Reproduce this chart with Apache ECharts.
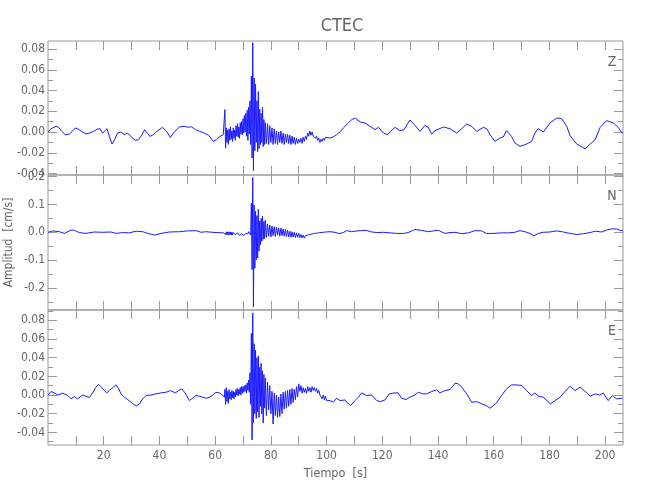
<!DOCTYPE html>
<html>
<head>
<meta charset="utf-8">
<script src="https://cdn.jsdelivr.net/npm/echarts@6/dist/echarts.min.js"></script>
<style>html,body{margin:0;padding:0;background:#fff}#c{width:650px;height:500px}</style>
</head>
<body>
<div id="c"></div>
<script>
// ---- data (time in s, amplitude in cm/s) ----
const xTickValues = [10,20,30,40,50,60,70,80,90,100,110,120,130,140,150,160,170,180,190,200];
const xLabelValues = [20,40,60,80,100,120,140,160,180,200];
const zMajor = [-0.04,-0.02,0,0.02,0.04,0.06,0.08];
const zMinor = [-0.03,-0.01,0.01,0.03,0.05,0.07];
const nMajor = [-0.2,-0.1,0,0.1,0.2];
const nMinor = [-0.25,-0.15,-0.05,0.05,0.15];
const eMajor = [-0.04,-0.02,0,0.02,0.04,0.06,0.08];
const eMinor = [-0.05,-0.03,-0.01,0.01,0.03,0.05,0.07,0.09];
const panelNames = ['Z','N','E'];

const zTrace = [
[0,0],[1.1,0.0032],[2.9,0.0055],[3.8,0.0045],[5.0,0.0006],[6.2,-0.0026],[7.7,-0.0019],[8.9,0.0013],[9.8,0.0039],[11.0,0.0026],
[12.4,0],[13.6,-0.0019],[14.8,-0.001],[16.3,0.0006],[17.8,0.0029],[18.7,0.0032],[19.6,-0.001],[20.2,-0.0026],[21.2,0.0032],[22.0,-0.0042],
[23.0,-0.0116],[23.9,-0.0074],[25.0,-0.001],[26.2,0],[27.4,-0.0026],[28.6,-0.001],[29.8,-0.0045],[31.3,-0.008],[32.5,-0.0074],[33.7,-0.0026],
[34.7,0.0023],[35.6,-0.001],[36.6,-0.0042],[37.8,-0.0026],[39.0,0.0006],[41.1,0.0045],[42.6,0.0006],[43.9,-0.0052],[45.3,0],[47.1,0.0048],
[48.9,0.0055],[50.5,0.0045],[51.4,0.0052],[52.9,0.0023],[54.5,0.0006],[56.1,-0.001],[57.7,-0.0032],[59.3,-0.009],[60.5,-0.0074],[61.7,-0.0042],
[62.9,-0.0026],[63.4,-0.0026],
[63.5,0.0216],[63.75,-0.0155],[64.0,0.004],[64.25,-0.010],[64.5,0.002],[64.75,-0.012],[65.0,0.003],[65.25,-0.008],[65.5,0.005],[65.75,-0.007],
[66.0,0.001],[66.25,-0.009],[66.5,0.004],[66.75,-0.006],[67.0,0.002],[67.25,-0.008],[67.5,0.006],[67.75,-0.004],[68.0,0.008],[68.25,-0.005],
[68.5,0.005],[68.75,-0.006],[69.0,0.009],[69.25,-0.002],[69.5,0.010],[69.75,-0.003],[70.0,0.013],[70.25,-0.001],[70.5,0.016],[70.75,0.000],
[71.0,0.018],[71.25,-0.004],[71.5,0.021],[71.75,-0.008],[72.0,0.024],[72.25,-0.002],[72.5,0.030],[72.75,-0.012],[73.0,0.054],[73.25,-0.025],
[73.5,0.086],[73.75,-0.037],[74.0,0.052],[74.25,-0.018],[74.5,0.046],[74.75,-0.010],[75.0,0.030],[75.25,-0.019],[75.5,0.039],[75.75,-0.016],
[76.0,0.022],[76.25,-0.012],[76.5,0.018],[76.75,-0.010],[77.0,0.024],[77.25,-0.014],[77.5,0.012],[77.75,-0.012],[78.0,0.009],[78.4,-0.011],
[78.8,0.008],[79.2,-0.012],[79.6,0.006],[80.0,-0.010],[80.4,0.004],[80.8,-0.012],[81.2,0.003],[81.6,-0.011],[82.0,0.001],[82.4,-0.012],
[82.8,0.000],[83.2,-0.010],[83.6,0.001],[84.0,-0.011],[84.4,-0.001],[84.8,-0.012],[85.2,-0.002],[85.6,-0.010],[86.0,-0.002],[86.4,-0.011],
[86.8,-0.003],[87.2,-0.012],[87.6,-0.004],[88.0,-0.011],[88.4,-0.005],[88.8,-0.012],[89.2,-0.006],[89.6,-0.011],[90.0,-0.007],[90.4,-0.010],
[90.8,-0.006],[91.2,-0.011],[91.6,-0.005],[92.0,-0.009],[92.4,-0.004],[92.8,-0.007],[93.2,-0.001],[93.6,-0.004],[94.0,0.001],[94.4,-0.003],
[94.8,0.000],[95.2,-0.004],[95.6,-0.003],[96.0,-0.006],[96.4,-0.004],[96.8,-0.008],[97.2,-0.006],[97.6,-0.010],[98.0,-0.007],[98.4,-0.009],
[98.8,-0.006],[99.2,-0.008],[99.6,-0.005],[100.0,-0.006],
[101.2,-0.0058],[102.5,-0.0045],[103.6,-0.0026],[105.0,0.0006],[106.0,0.0039],[107.8,0.0087],[109.0,0.0119],[110.3,0.0135],[111.2,0.0116],[112.1,0.0097],
[113.8,0.0087],[115.6,0.0055],[117.4,0.0023],[118.6,0.0045],[120.4,-0.001],[121.8,-0.0026],[122.8,0],[124.6,0.0045],[126.3,0.0013],[127.8,0.0023],
[129.9,0.0116],[131.7,0.0064],[133.5,0.0006],[135.3,0.0064],[136.5,0.0045],[137.7,-0.0019],[138.9,0.0013],[141.9,0.0048],[144.3,0.0032],[146.7,-0.001],
[148.5,0.0032],[150.3,0.0077],[152.1,0.0055],[153.9,0.0006],[156.3,0.0045],[157.5,0.0032],[158.7,-0.0026],[160.4,-0.009],[162.2,-0.0058],[163.4,-0.0048],
[164.6,0.0013],[166.4,-0.0042],[167.6,-0.0106],[169.4,-0.0138],[171.8,-0.0116],[173.6,-0.009],[174.8,-0.001],[176.0,0.0032],[177.8,0],[180.2,0.0087],
[182.6,0.0135],[184.4,0.0129],[186.2,0.0055],[187.4,-0.0035],[189.8,-0.0116],[192.8,-0.0161],[194.6,-0.0116],[196.4,-0.0074],[198.2,0.0045],[200.5,0.011],
[202.9,0.0087],[204.7,0.0045],[205.9,-0.0006],[206.4,-0.001]
];

const nTrace = [
[0,0],[1.7,0.005],[4.1,0.002],[5.9,-0.004],[8.3,0.008],[9.5,0.007],[11.2,-0.001],[13.6,-0.004],[16.6,0.001],[19.6,0],
[22.6,0.001],[24.4,-0.004],[26.8,-0.001],[29.2,-0.002],[31.6,0.004],[34.0,0.002],[35.8,-0.004],[38.2,-0.010],[40.6,-0.004],[43.5,0.001],
[47.1,0.002],[50.1,0.005],[53.1,0.006],[54.9,0],[56.7,0.002],[60.3,-0.001],[63.0,-0.002],
[63.25,-0.002],[63.5,0.003],[63.75,-0.008],[64.0,0.002],[64.25,-0.009],[64.5,0.001],[64.75,-0.010],[65.0,0.002],[65.25,-0.008],[65.5,0.000],
[65.75,-0.010],[66.0,0.001],[66.25,-0.009],[66.5,-0.001],[66.75,-0.008],[67.0,0.000],[67.25,-0.009],[67.5,-0.002],[67.75,-0.010],[68.0,-0.002],
[68.25,-0.008],[68.5,-0.003],[68.75,-0.011],[69.0,-0.004],[69.25,-0.010],[69.5,-0.005],[69.75,-0.012],[70.0,-0.006],[70.25,-0.011],[70.5,-0.006],
[70.75,-0.009],[71.0,-0.004],[71.25,-0.008],[71.5,-0.002],[71.75,-0.006],[72.0,0.002],[72.25,-0.004],[72.5,0.004],[72.75,-0.010],[73.0,0.105],
[73.25,-0.134],[73.5,0.196],[73.75,-0.267],[74.0,0.098],[74.25,-0.129],[74.5,0.075],[74.75,-0.099],[75.0,0.060],[75.25,-0.092],[75.5,0.082],
[75.75,-0.068],[76.0,0.040],[76.25,-0.045],[76.5,0.050],[76.75,-0.032],[77.0,0.057],[77.25,-0.025],[77.5,0.038],[77.75,-0.022],[78.0,0.043],
[78.4,-0.018],[78.8,0.030],[79.2,-0.014],[79.6,0.026],[80.0,-0.016],[80.4,0.022],[80.8,-0.012],[81.2,0.020],[81.6,-0.015],[82.0,0.018],
[82.4,-0.010],[82.8,0.016],[83.2,-0.014],[83.6,0.015],[84.0,-0.012],[84.4,0.012],[84.8,-0.014],[85.2,0.010],[85.6,-0.015],[86.0,0.008],
[86.4,-0.016],[86.8,0.004],[87.2,-0.018],[87.6,0.002],[88.0,-0.017],[88.4,0.000],[88.8,-0.019],[89.2,-0.002],[89.6,-0.018],[90.0,-0.004],
[90.4,-0.019],[90.8,-0.008],[91.2,-0.020],[91.6,-0.010],[92.0,-0.021],[92.4,-0.012],[92.8,-0.016],[93.2,-0.010],[93.6,-0.012],[94.0,-0.008],
[94.4,-0.009],[94.8,-0.006],[95.2,-0.008],[95.6,-0.004],[96.0,-0.006],[96.4,-0.003],[96.8,-0.005],[97.2,-0.002],[97.6,-0.003],[98.0,-0.001],
[98.4,-0.002],[98.8,0.000],[99.2,-0.002],[99.6,0.001],[100.0,0.000],
[101.2,0.002],[103.0,0],[104.5,-0.005],[106.0,-0.001],[107.2,0.006],[109.0,0.002],[110.9,0.005],[112.6,0.006],[114.4,0.007],[115.6,0.002],
[118.0,-0.001],[120.4,0],[122.8,-0.002],[125.2,-0.004],[127.5,-0.004],[129.3,-0.001],[131.7,0.010],[134.1,0.007],[136.5,0.002],[138.3,0.005],
[140.1,0.007],[142.5,-0.004],[144.3,-0.001],[146.1,0],[148.5,-0.005],[150.9,-0.002],[153.3,0.006],[155.6,0.005],[157.4,-0.004],[159.8,-0.004],
[162.8,-0.002],[165.2,-0.002],[167.6,0],[169.4,0.006],[171.2,0.002],[173.0,-0.004],[174.4,-0.013],[176.0,-0.004],[177.8,0],[180.2,0.001],
[182.6,0.005],[185.0,0.001],[187.4,-0.004],[189.8,-0.008],[192.2,-0.005],[194.6,-0.001],[196.4,0.004],[198.8,0.001],[200.5,0.008],[202.3,0.012],
[204.1,0.012],[205.3,0.007],[206.3,0.006]
];

const eTrace = [
[0,0],[1.1,0.0038],[2.3,0.0023],[3.5,0],[5.3,0.002],[7.1,-0.0005],[8.3,-0.0041],[9.5,-0.0016],[10.6,-0.0041],[12.4,0],
[13.6,-0.0012],[14.8,-0.0027],[16.0,0.0023],[17.2,0.0084],[18.1,0.0113],[19.0,0.0091],[20.2,0.0048],[21.1,0.0023],[22.0,0.0048],[23.4,0.0084],
[24.4,0.0109],[25.4,0.0066],[26.2,0.0013],[27.4,-0.0023],[28.6,-0.0048],[29.8,-0.0077],[31.0,-0.0105],[31.8,-0.0116],[32.8,-0.0095],[34.0,-0.0041],
[35.2,-0.0005],[37.0,0],[38.8,0.0013],[40.6,0.0023],[42.3,0.003],[44.1,0.0048],[45.7,0.0023],[46.9,0.0048],[48.0,0.0066],[49.2,0.0023],
[50.7,-0.0059],[51.9,-0.0034],[53.1,-0.0005],[54.3,-0.0012],[55.5,-0.0023],[56.9,-0.0034],[58.1,-0.0023],[59.1,0],[60.3,0.003],[61.5,0.0023],
[62.7,0],[63.3,-0.0023],
[63.5,0.006],[63.75,-0.010],[64.0,0.008],[64.25,-0.007],[64.5,0.004],[64.75,-0.009],[65.0,0.006],[65.25,-0.004],[65.5,0.003],[65.75,-0.005],
[66.0,0.005],[66.25,-0.003],[66.5,0.004],[66.75,-0.004],[67.0,0.003],[67.25,-0.002],[67.5,0.006],[67.75,0.000],[68.0,0.007],[68.25,-0.001],
[68.5,0.006],[68.75,0.001],[69.0,0.008],[69.25,0.000],[69.5,0.009],[69.75,0.002],[70.0,0.009],[70.25,0.003],[70.5,0.010],[70.75,0.004],
[71.0,0.011],[71.25,0.002],[71.5,0.013],[71.75,0.005],[72.0,0.016],[72.25,0.003],[72.5,0.024],[72.75,-0.010],[73.0,0.066],[73.25,-0.048],
[73.5,0.088],[73.75,-0.030],[74.0,0.055],[74.25,-0.020],[74.5,0.048],[74.75,-0.025],[75.0,0.040],[75.25,-0.018],[75.5,0.042],[75.75,-0.024],
[76.0,0.030],[76.25,-0.012],[76.5,0.034],[76.75,-0.020],[77.0,0.026],[77.25,-0.030],[77.5,0.022],[77.75,-0.014],[78.0,0.018],[78.4,-0.022],
[78.8,0.014],[79.2,-0.016],[79.6,0.010],[80.0,-0.020],[80.4,0.004],[80.8,-0.031],[81.2,0.002],[81.6,-0.022],[82.0,0.000],[82.4,-0.024],
[82.8,-0.002],[83.2,-0.023],[83.6,0.001],[84.0,-0.020],[84.4,0.003],[84.8,-0.015],[85.2,0.004],[85.6,-0.014],[86.0,0.005],[86.4,-0.012],
[86.8,0.006],[87.2,-0.010],[87.6,0.007],[88.0,-0.008],[88.4,0.006],[88.8,-0.005],[89.2,0.009],[89.6,-0.002],[90.0,0.012],[90.4,0.004],
[90.8,0.010],[91.2,0.002],[91.6,0.008],[92.0,0.003],[92.4,0.007],[92.8,0.002],[93.2,0.009],[93.6,0.004],[94.0,0.008],[94.4,0.003],
[94.8,0.009],[95.2,0.005],[95.6,0.008],[96.0,0.004],[96.4,0.007],[96.8,0.002],[97.2,0.005],[97.6,0.000],[98.0,0.002],[98.4,-0.004],
[98.8,0.000],[99.2,-0.005],[99.6,-0.001],[100.0,-0.006],
[101.2,-0.0059],[102.4,-0.0077],[103.6,-0.0034],[104.8,-0.0059],[106.6,-0.0052],[107.8,-0.0095],[108.6,-0.0113],[110.2,-0.0059],[111.4,-0.0023],[112.6,0.0023],
[114.4,-0.0005],[116.2,0],[118.0,-0.0059],[119.2,-0.007],[121.0,-0.0052],[122.5,0.0013],[124.5,0.0023],[125.7,0.0023],[126.9,-0.0034],[128.5,-0.0048],
[129.9,-0.0023],[131.7,0],[132.9,0.003],[134.5,0.0013],[135.9,0.0013],[137.7,0.0038],[139.5,0.0055],[140.7,0.0023],[142.5,0.0048],[144.3,0.0059],
[146.1,0.0127],[147.3,0.012],[148.5,0.0084],[150.3,0.0013],[152.1,-0.0077],[153.9,-0.007],[155.7,-0.0095],[157.4,-0.0113],[158.6,-0.0141],[159.8,-0.0113],
[161.0,-0.0084],[162.8,-0.0005],[164.6,0.0066],[166.4,0.0109],[168.2,0.0109],[170.0,0.0102],[171.8,0.0048],[173.6,-0.0005],[174.8,0.0023],[176.0,-0.0012],
[177.8,-0.0023],[179.0,-0.0059],[180.4,-0.0095],[182.0,-0.0059],[183.8,-0.0023],[185.6,0.0038],[187.4,0.0095],[189.2,0.0048],[191.0,0.0084],[192.8,0.0038],
[194.6,-0.0012],[196.4,0.0013],[198.1,0],[199.3,0.0023],[201.1,-0.0059],[202.6,-0.0005],[204.1,-0.0041],[206.2,-0.0034]
];

// ---- layout / style ----
const FONT = "'Liberation Sans Narrow', 'DejaVu Sans Condensed', 'Liberation Sans', sans-serif";
const AX = '#999';
const TXT = '#666';
const X_MIN = 0, X_MAX = 206.4;
const panels = [
  {trace: zTrace, min: -0.0414, max: 0.0877, major: zMajor, minor: zMinor, dec: 2, top: 41, height: 134},
  {trace: nTrace, min: -0.2786, max: 0.2054, major: nMajor, minor: nMinor, dec: 1, top: 175, height: 135},
  {trace: eTrace, min: -0.0535, max: 0.0911, major: eMajor, minor: eMinor, dec: 2, top: 310, height: 135}
];

const grid = [], xAxis = [], yAxis = [], series = [];
panels.forEach((p, g) => {
  grid.push({left: 48, right: 27, top: p.top, height: p.height, show: true, borderColor: AX, borderWidth: 1, backgroundColor: 'transparent'});
  ['bottom', 'top'].forEach(pos => {
    const showLab = (g === 2 && pos === 'bottom');
    xAxis.push({
      type: 'value', gridIndex: g, position: pos, min: X_MIN, max: X_MAX,
      axisLine: {show: false, onZero: false},
      splitLine: {show: false},
      axisTick: {show: true, inside: true, length: 9, customValues: xTickValues, lineStyle: {color: AX}},
      axisLabel: {show: showLab, customValues: xLabelValues, margin: 5, color: TXT, fontFamily: FONT, fontSize: 12},
      name: showLab ? 'Tiempo  [s]' : '',
      nameLocation: 'middle', nameGap: 22, nameMoveOverlap: false,
      nameTextStyle: {color: TXT, fontFamily: FONT, fontSize: 12.5}
    });
  });
  [['left', true], ['left', false], ['right', true], ['right', false]].forEach(([pos, isMajor]) => {
    const showLab = (pos === 'left' && isMajor);
    yAxis.push({
      type: 'value', gridIndex: g, position: pos, min: p.min, max: p.max,
      axisLine: {show: false, onZero: false},
      splitLine: {show: false},
      axisTick: {show: true, inside: true, length: isMajor ? 9 : 5, customValues: isMajor ? p.major : p.minor, lineStyle: {color: AX}},
      axisLabel: {show: showLab, customValues: p.major, margin: 3, color: TXT, fontFamily: FONT, fontSize: 12,
        formatter: v => Number(v).toFixed(p.dec)}
    });
  });
  series.push({
    type: 'line', xAxisIndex: 2 * g, yAxisIndex: 4 * g, data: p.trace,
    showSymbol: false, symbol: 'none', sampling: false, clip: true,
    lineStyle: {color: '#1a1aff', width: 1}, animation: false
  });
});

const titles = [{text: 'CTEC', left: 337, top: 12, textAlign: 'center',
  textStyle: {color: TXT, fontFamily: FONT, fontSize: 18, fontWeight: 'normal'}}];
panelNames.forEach((nm, g) => {
  titles.push({text: nm, left: 607, top: panels[g].top + 9, textAlign: 'center',
    textStyle: {color: TXT, fontFamily: FONT, fontSize: 14, fontWeight: 'normal'}});
});

const chart = echarts.init(document.getElementById('c'), null, {renderer: 'canvas'});
chart.setOption({
  animation: false,
  backgroundColor: '#fff',
  title: titles,
  graphic: [{
    type: 'text', x: 9, y: panels[1].top + panels[1].height / 2, rotation: Math.PI / 2,
    style: {text: 'Amplitud  [cm/s]', fill: TXT, font: '12px ' + FONT, align: 'center', verticalAlign: 'middle'}
  }],
  grid: grid, xAxis: xAxis, yAxis: yAxis, series: series
});
</script>
</body>
</html>
